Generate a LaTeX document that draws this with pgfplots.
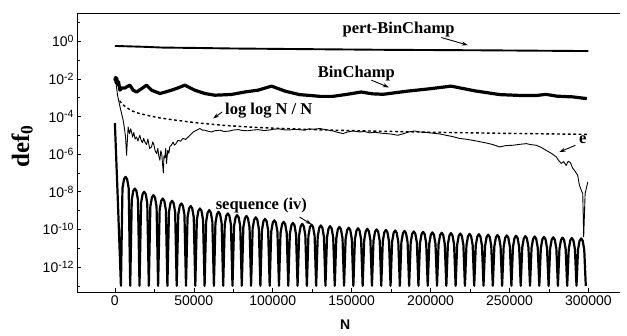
\documentclass[border=0pt]{standalone}
\usepackage{fontspec}
\setmainfont{Liberation Serif}
\setsansfont{Liberation Sans}
\usepackage{pgfplots}
\pgfplotsset{compat=1.18}
\usetikzlibrary{arrows.meta}
\newcommand{\supx}[1]{\raisebox{0.55ex}{\fontsize{10.5}{10.5}\selectfont #1}}
\begin{document}
\begin{tikzpicture}[x=1pt,y=1pt]
\useasboundingbox (-77,-43) rectangle (550,292);
\begin{axis}[
  at={(0,0)}, anchor=south west,
  scale only axis, width=543pt, height=279pt,
  ymode=log, xmin=-24000, xmax=320000, ymin=4.68e-14, ymax=31.6,
  axis x line*=box, axis y line*=left,
  axis line style={-, line width=0.6pt, black},
  scaled x ticks=false,
  xtick={0,50000,100000,150000,200000,250000,300000},
  xticklabels={0,50000,100000,150000,200000,250000,300000},
  minor xtick={25000,75000,125000,175000,225000,275000},
  ytick={1,1e-2,1e-4,1e-6,1e-8,1e-10,1e-12},
  yticklabels={10\supx{0},10\supx{-2},10\supx{-4},10\supx{-6},10\supx{-8},10\supx{-10},10\supx{-12}},
  minor ytick={10,1e-1,1e-3,1e-5,1e-7,1e-9,1e-11,1e-13},
  tick align=inside, xtick pos=bottom, ytick pos=left,
  major tick length=4pt, minor tick length=3pt,
  tick style={black, line width=0.6pt},
  ticklabel style={font=\sffamily\fontsize{14}{14}\selectfont},
  xlabel={N}, ylabel={def\textsubscript{0}},
  xlabel style={font=\sffamily\bfseries\fontsize{14}{14}\selectfont, at={(axis description cs:0.494,-0.118)}, anchor=center},
  ylabel style={font=\bfseries\fontsize{25}{25}\selectfont, at={(axis description cs:-0.101,0.523)}, anchor=center},
  clip=true,
]
% pert-BinChamp
\addplot[black, line width=1.9pt] coordinates {
(0,0.56) (10000,0.53) (20000,0.5) (30000,0.46) (50000,0.44) (75000,0.41) (120000,0.38) (170000,0.35) (230000,0.33) (300000,0.30)};
% BinChamp
\addplot[black, line width=3.2pt, line join=round] coordinates {
(0,8e-3) (400,1.2e-2) (800,6e-3) (1200,1.1e-2) (1700,5e-3) (2300,7e-3) (3200,2.5e-3) (4500,3.3e-3) (6300,3.2e-3) (8000,4e-3) (9500,4.6e-3) (11600,2.5e-3) (13700,2.0e-3) (16900,3.0e-3) (20000,4.6e-3) (23200,2.5e-3) (28500,1.66e-3) (32000,2.0e-3) (35900,2.5e-3) (40000,3.3e-3) (44300,4.6e-3) (50600,2.5e-3) (57000,1.66e-3) (63300,1.35e-3) (68000,1.4e-3) (73800,1.48e-3) (82300,2.0e-3) (90700,2.5e-3) (99200,4.1e-3) (108000,2.2e-3) (117000,1.45e-3) (124000,1.3e-3) (130000,1.17e-3) (138000,1.17e-3) (147000,1.5e-3) (156000,2.0e-3) (163000,1.6e-3) (170000,1.51e-3) (185000,2.2e-3) (200000,3.0e-3) (213000,4.1e-3) (228000,2.3e-3) (244000,1.45e-3) (258000,1.3e-3) (267000,1.3e-3) (273000,1.5e-3) (280000,1.2e-3) (290000,1.1e-3) (299000,8.9e-4)};
% log log N / N
\addplot[black, line width=1.4pt, dash pattern=on 2.8pt off 2.6pt] coordinates {
(3000,6.9e-4) (4500,4.7e-4) (6300,3.5e-4) (10600,2.0e-4) (15000,1.48e-4) (21000,1.12e-4) (28000,8.5e-5) (36000,6.8e-5) (45000,5.4e-5) (53000,4.5e-5) (70000,3.3e-5) (90000,2.6e-5) (110000,2.24e-5) (130000,1.95e-5) (160000,1.7e-5) (200000,1.45e-5) (250000,1.26e-5) (300000,1.12e-5)};
% e
\addplot[black, line width=0.9pt, line join=round] coordinates {
(800,5e-3) (1700,1.35e-3) (3000,4e-4) (4200,1.5e-4) (5250,6.3e-5) (6000,2.5e-5) (6770,8.1e-6) (7400,8.7e-7) (7900,5e-6) (8400,2.75e-5) (9300,1.2e-5) (10000,2.2e-5) (10570,1.5e-5) (11200,8e-6) (12000,1.4e-5) (12800,6.3e-6) (13730,8.1e-6) (14600,5e-6) (15800,1e-5) (16600,5.5e-6) (17500,4e-6) (18200,7e-6) (19000,4.4e-6) (20000,3.2e-6) (20900,6.3e-6) (22000,2e-6) (23200,2.4e-6) (24000,4.5e-6) (24700,3.2e-6) (25500,1.5e-6) (26400,1.07e-6) (27200,2e-6) (27800,8e-7) (28500,4.7e-7) (29100,1.5e-6) (29700,1e-6) (30200,3e-7) (30700,1e-7) (31100,8e-7) (31600,6.3e-7) (32200,2e-6) (32700,3.2e-7) (33500,1.6e-6) (34200,1.1e-6) (34800,2.5e-6) (35800,3e-6) (36900,4.4e-6) (37700,3e-6) (38600,3.5e-6) (40000,5.5e-6) (41500,4.8e-6) (43200,6.8e-6) (44800,6e-6) (46400,8.1e-6) (48000,1.1e-5) (49600,1.5e-5) (51500,1.8e-5) (53800,2.3e-5) (55400,1.9e-5) (57000,1.86e-5) (59000,1.65e-5) (61200,1.5e-5) (63500,1.75e-5) (66500,1.86e-5) (69000,1.6e-5) (72200,1.66e-5) (75000,1.9e-5) (78000,2.0e-5) (81000,1.8e-5) (84200,1.74e-5) (87500,1.9e-5) (90700,2.0e-5) (94000,1.8e-5) (97000,1.86e-5) (100500,2.1e-5) (104000,2.2e-5) (107000,1.95e-5) (110000,1.9e-5) (113500,2.05e-5) (117000,2.0e-5) (120000,1.85e-5) (123000,2.2e-5) (126500,2.1e-5) (129700,2.3e-5) (133500,2.0e-5) (138200,1.7e-5) (141000,1.45e-5) (144500,1.23e-5) (147500,1.5e-5) (150800,1.7e-5) (155000,1.5e-5) (158000,1.6e-5) (161400,1.35e-5) (165000,1.45e-5) (168500,1.3e-5) (172000,1.23e-5) (175500,1.15e-5) (179300,1.0e-5) (182500,1.2e-5) (186000,1.5e-5) (189900,1.7e-5) (193000,1.5e-5) (196000,1.45e-5) (199400,1.35e-5) (203000,1.25e-5) (206500,1.15e-5) (209900,1.0e-5) (214000,8.5e-6) (218400,6.8e-6) (222500,6.2e-6) (226800,5.4e-6) (231000,4.6e-6) (235300,3.9e-6) (239500,3.2e-6) (243700,2.4e-6) (247500,2.8e-6) (252100,2.95e-6) (256500,3.3e-6) (260600,3.6e-6) (263500,3.2e-6) (266900,2.95e-6) (270000,2.3e-6) (273200,1.58e-6) (276500,1.1e-6) (279600,7.1e-7) (281200,4.5e-7) (282700,3.2e-7) (284300,4e-7) (285900,2.5e-7) (287200,4.2e-7) (288600,3.5e-7) (290000,1.8e-7) (291100,1.38e-7) (292200,1.0e-7) (293200,7.4e-8) (294300,2.2e-8) (295500,1.2e-8) (296400,7.9e-9) (297000,4e-11) (297900,7.9e-9) (299600,3.3e-8)};
% sequence (iv)
\addplot[black, line width=2.2pt, line join=round] coordinates {
(0,4.5e-5) (1900,3e-9)
(3825,1e-13) (4807,1.54e-8) (5788,4.63e-8) (6770,6.17e-8) (7752,4.63e-8) (8733,1.54e-8)
(9715,1e-13) (10697,3.7e-9) (11678,1.11e-8) (12660,1.48e-8) (13642,1.11e-8) (14623,3.7e-9)
(15605,1e-13) (16587,2.5e-9) (17568,7.5e-9) (18550,1.0e-8) (19532,7.5e-9) (20513,2.5e-9)
(21495,1e-13) (22477,1.65e-9) (23458,4.96e-9) (24440,6.61e-9) (25422,4.96e-9) (26403,1.65e-9)
(27385,1e-13) (28367,1.09e-9) (29348,3.28e-9) (30330,4.37e-9) (31312,3.28e-9) (32293,1.09e-9)
(33275,1e-13) (34257,8.3e-10) (35238,2.48e-9) (36220,3.31e-9) (37202,2.48e-9) (38183,8.3e-10)
(39165,1e-13) (40147,6.0e-10) (41128,1.8e-9) (42110,2.4e-9) (43092,1.8e-9) (44073,6.0e-10)
(45055,1e-13) (46037,4.35e-10) (47018,1.31e-9) (48000,1.74e-9) (48982,1.31e-9) (49963,4.35e-10)
(50945,1e-13) (51927,3.2e-10) (52908,9.7e-10) (53890,1.29e-9) (54872,9.7e-10) (55853,3.2e-10)
(56835,1e-13) (57817,2.6e-10) (58798,7.9e-10) (59780,1.05e-9) (60762,7.9e-10) (61743,2.6e-10)
(62725,1e-13) (63707,2.13e-10) (64688,6.4e-10) (65670,8.51e-10) (66652,6.4e-10) (67633,2.13e-10)
(68615,1e-13) (69597,1.77e-10) (70578,5.3e-10) (71560,7.08e-10) (72542,5.3e-10) (73523,1.77e-10)
(74505,1e-13) (75487,1.44e-10) (76468,4.3e-10) (77450,5.75e-10) (78432,4.3e-10) (79413,1.44e-10)
(80395,1e-13) (81377,1.28e-10) (82358,3.85e-10) (83340,5.13e-10) (84322,3.85e-10) (85303,1.28e-10)
(86285,1e-13) (87267,1.09e-10) (88248,3.28e-10) (89230,4.37e-10) (90212,3.28e-10) (91193,1.09e-10)
(92175,1e-13) (93157,9.1e-11) (94138,2.72e-10) (95120,3.63e-10) (96102,2.72e-10) (97083,9.1e-11)
(98065,1e-13) (99047,7.6e-11) (100028,2.27e-10) (101010,3.02e-10) (101992,2.27e-10) (102973,7.6e-11)
(103955,1e-13) (104937,6.3e-11) (105918,1.88e-10) (106900,2.51e-10) (107882,1.88e-10) (108863,6.3e-11)
(109845,1e-13) (110827,5.5e-11) (111808,1.64e-10) (112790,2.19e-10) (113772,1.64e-10) (114753,5.5e-11)
(115735,1e-13) (116717,4.9e-11) (117698,1.46e-10) (118680,1.95e-10) (119662,1.46e-10) (120643,4.9e-11)
(121625,1e-13) (122607,4.45e-11) (123588,1.34e-10) (124570,1.78e-10) (125552,1.34e-10) (126533,4.45e-11)
(127515,1e-13) (128497,4.05e-11) (129478,1.22e-10) (130460,1.62e-10) (131442,1.22e-10) (132423,4.05e-11)
(133405,1e-13) (134387,3.7e-11) (135368,1.11e-10) (136350,1.48e-10) (137332,1.11e-10) (138313,3.7e-11)
(139295,1e-13) (140277,3.4e-11) (141258,1.01e-10) (142240,1.35e-10) (143222,1.01e-10) (144203,3.4e-11)
(145185,1e-13) (146167,3.1e-11) (147148,9.2e-11) (148130,1.23e-10) (149112,9.2e-11) (150093,3.1e-11)
(151075,1e-13) (152057,2.9e-11) (153038,8.6e-11) (154020,1.15e-10) (155002,8.6e-11) (155983,2.9e-11)
(156965,1e-13) (157947,2.7e-11) (158928,8.0e-11) (159910,1.07e-10) (160892,8.0e-11) (161873,2.7e-11)
(162855,1e-13) (163837,2.5e-11) (164818,7.5e-11) (165800,1.0e-10) (166782,7.5e-11) (167763,2.5e-11)
(168745,1e-13) (169727,2.33e-11) (170708,7.0e-11) (171690,9.33e-11) (172672,7.0e-11) (173653,2.33e-11)
(174635,1e-13) (175617,2.18e-11) (176598,6.5e-11) (177580,8.71e-11) (178562,6.5e-11) (179543,2.18e-11)
(180525,1e-13) (181507,2.08e-11) (182488,6.2e-11) (183470,8.32e-11) (184452,6.2e-11) (185433,2.08e-11)
(186415,1e-13) (187397,1.94e-11) (188378,5.8e-11) (189360,7.76e-11) (190342,5.8e-11) (191323,1.94e-11)
(192305,1e-13) (193287,1.85e-11) (194268,5.56e-11) (195250,7.41e-11) (196232,5.56e-11) (197213,1.85e-11)
(198195,1e-13) (199177,1.73e-11) (200158,5.19e-11) (201140,6.92e-11) (202122,5.19e-11) (203103,1.73e-11)
(204085,1e-13) (205067,1.65e-11) (206048,4.96e-11) (207030,6.61e-11) (208012,4.96e-11) (208993,1.65e-11)
(209975,1e-13) (210957,1.58e-11) (211938,4.73e-11) (212920,6.31e-11) (213902,4.73e-11) (214883,1.58e-11)
(215865,1e-13) (216847,1.51e-11) (217828,4.52e-11) (218810,6.03e-11) (219792,4.52e-11) (220773,1.51e-11)
(221755,1e-13) (222737,1.44e-11) (223718,4.31e-11) (224700,5.75e-11) (225682,4.31e-11) (226663,1.44e-11)
(227645,1e-13) (228627,1.38e-11) (229608,4.13e-11) (230590,5.5e-11) (231572,4.13e-11) (232553,1.38e-11)
(233535,1e-13) (234517,1.31e-11) (235498,3.94e-11) (236480,5.25e-11) (237462,3.94e-11) (238443,1.31e-11)
(239425,1e-13) (240407,1.25e-11) (241388,3.76e-11) (242370,5.01e-11) (243352,3.76e-11) (244333,1.25e-11)
(245315,1e-13) (246297,1.2e-11) (247278,3.59e-11) (248260,4.79e-11) (249242,3.59e-11) (250223,1.2e-11)
(251205,1e-13) (252187,1.14e-11) (253168,3.43e-11) (254150,4.57e-11) (255132,3.43e-11) (256113,1.14e-11)
(257095,1e-13) (258077,1.09e-11) (259058,3.28e-11) (260040,4.37e-11) (261022,3.28e-11) (262003,1.09e-11)
(262985,1e-13) (263967,1.04e-11) (264948,3.13e-11) (265930,4.17e-11) (266912,3.13e-11) (267893,1.04e-11)
(268875,1e-13) (269857,9.95e-12) (270838,2.99e-11) (271820,3.98e-11) (272802,2.99e-11) (273783,9.95e-12)
(274765,1e-13) (275747,9.5e-12) (276728,2.85e-11) (277710,3.8e-11) (278692,2.85e-11) (279673,9.5e-12)
(280655,1e-13) (281637,9.1e-12) (282618,2.72e-11) (283600,3.63e-11) (284582,2.72e-11) (285563,9.1e-12)
(286545,1e-13) (287527,8.7e-12) (288508,2.6e-11) (289490,3.47e-11) (290472,2.6e-11) (291453,8.7e-12)
(292435,1e-13) (293417,8.3e-12) (294398,2.48e-11) (295380,3.31e-11) (296362,2.48e-11) (297343,8.3e-12)
(298325,1e-13)};
% annotations
\begin{scope}[every node/.style={font=\bfseries\fontsize{16.5}{16.5}\selectfont, inner sep=0pt}]
\node at (axis cs:179700,4.0) {pert-BinChamp};
\node at (axis cs:153000,2.0e-2) {BinChamp};
\node at (axis cs:97500,2.1e-4) {log log N / N};
\node at (axis cs:296400,5.9e-6) {e};
\node at (axis cs:92800,1.9e-9) {sequence (iv)};
\end{scope}
\begin{scope}[line width=0.9pt, -{Stealth[length=6pt,width=4pt]}]
\draw (axis cs:206800,1.57) -- (axis cs:223600,0.62);
\draw (axis cs:162500,8.5e-3) -- (axis cs:173600,3.5e-3);
\draw (axis cs:68000,1.74e-4) -- (axis cs:62200,7.8e-5);
\draw (axis cs:291800,2.95e-6) -- (axis cs:281600,1.29e-6);
\draw (axis cs:117000,4.5e-10) -- (axis cs:124500,1.86e-10);
\end{scope}
\end{axis}
\end{tikzpicture}
\end{document}
